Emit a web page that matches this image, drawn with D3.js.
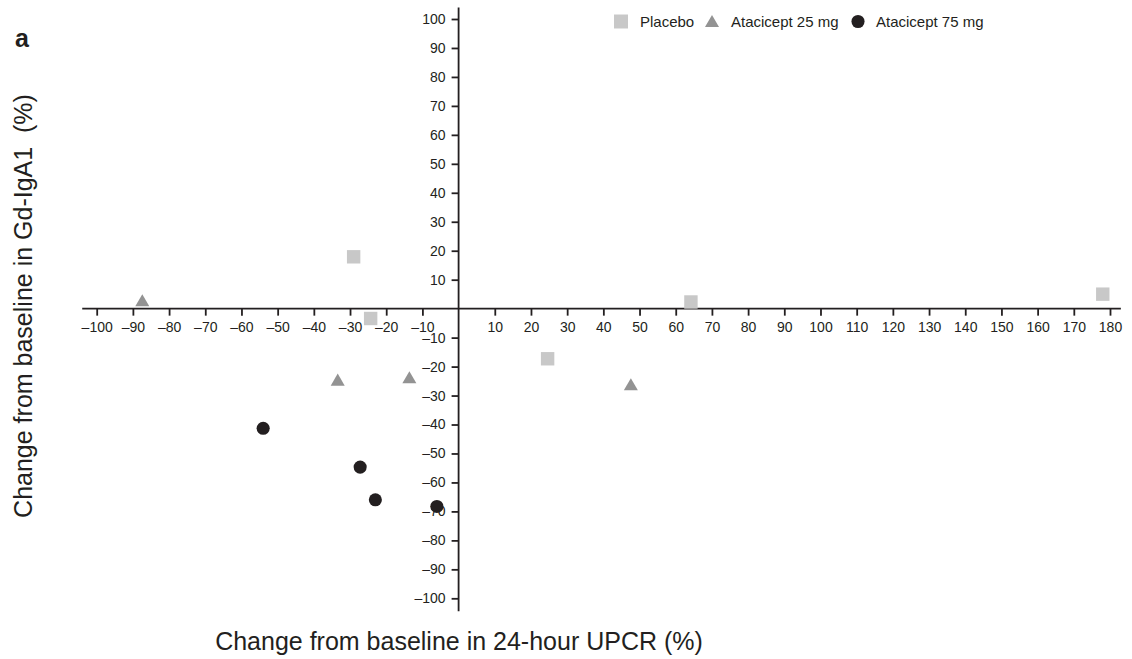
<!DOCTYPE html>
<html>
<head>
<meta charset="utf-8">
<script src="https://cdn.jsdelivr.net/npm/d3@7"></script>
<style>
  html, body { margin: 0; padding: 0; background: #fff; }
  svg { display: block; font-family: "Liberation Sans", Arial, sans-serif; }
</style>
</head>
<body>
<svg id="chart" width="1132" height="659"></svg>
<script>
// ---- Data ----
const seriesNames = ["Placebo", "Atacicept 25 mg", "Atacicept 75 mg"];
const placeboX = [-29, -24.3, 24.6, 64.2, 178];
const placeboY = [17.9, -3.4, -17.3, 2.3, 5.0];
const ata25X = [-87.4, -33.4, -13.6, 47.6];
const ata25Y = [2.2, -25.2, -24.4, -26.8];
const ata75X = [-54.0, -27.2, -23.0, -6.0];
const ata75Y = [-41.3, -54.7, -66.0, -68.3];
const xTicks = d3.range(-100, 181, 10).filter(v => v !== 0);
const yTicks = d3.range(-100, 101, 10).filter(v => v !== 0);
const xTitle = "Change from baseline in 24-hour UPCR (%)";
const yTitle = "Change from baseline in Gd-IgA1\u00a0 (%)";
const panelLabel = "a";

// ---- Layout ----
const svg = d3.select("#chart");
const ink = "#231f20";
const x = d3.scaleLinear().domain([-100, 180]).range([96.7, 1110]);
const y = d3.scaleLinear().domain([-100, 100]).range([598.3, 19]);
const fmt = v => String(v).replace("-", "\u2013");

// axis lines
svg.append("line")
  .attr("x1", x(-104)).attr("x2", x(183))
  .attr("y1", y(0)).attr("y2", y(0))
  .attr("stroke", ink).attr("stroke-width", 1.8);
svg.append("line")
  .attr("x1", x(0)).attr("x2", x(0))
  .attr("y1", y(104)).attr("y2", y(-104.5))
  .attr("stroke", ink).attr("stroke-width", 1.8);

const xAxis = d3.axisBottom(x).tickValues(xTicks).tickFormat(fmt)
  .tickSize(7).tickPadding(6).tickSizeOuter(0);
const gx = svg.append("g").attr("transform", `translate(0,${y(0)})`).call(xAxis);
gx.select(".domain").remove();

const yAxis = d3.axisLeft(y).tickValues(yTicks).tickFormat(fmt)
  .tickSize(7).tickPadding(6).tickSizeOuter(0);
const gy = svg.append("g").attr("transform", `translate(${x(0)},0)`).call(yAxis);
gy.select(".domain").remove();

[gx, gy].forEach(g => {
  g.selectAll(".tick line").attr("stroke", ink).attr("stroke-width", 1.8);
  g.selectAll(".tick text").attr("fill", ink)
    .style("font-size", "14px").style("font-family", "'Liberation Sans', Arial, sans-serif");
});

// ---- Points ----
const colors = ["#c8c8c8", "#939393", ink];
const symbols = [d3.symbolSquare, d3.symbolTriangle, d3.symbolCircle];
const sizes = [180, 85, 135];
const seriesData = [
  placeboX.map((v, i) => [v, placeboY[i]]),
  ata25X.map((v, i) => [v, ata25Y[i]]),
  ata75X.map((v, i) => [v, ata75Y[i]])
];
seriesData.forEach((pts, s) => {
  svg.append("g").selectAll("path").data(pts).join("path")
    .attr("d", d3.symbol().type(symbols[s]).size(sizes[s]))
    .attr("transform", d => `translate(${x(d[0])},${y(d[1])})`)
    .attr("fill", colors[s]);
});

// ---- Legend ----
const legendSym = [621, 712, 858];
const legendTxt = [640, 731, 876];
const lg = svg.append("g");
seriesNames.forEach((name, i) => {
  lg.append("path")
    .attr("d", d3.symbol().type(symbols[i]).size(i === 0 ? 196 : sizes[i]))
    .attr("transform", `translate(${legendSym[i]},${i === 1 ? 23 : 21.5})`)
    .attr("fill", colors[i]);
  lg.append("text").attr("x", legendTxt[i]).attr("y", 27)
    .attr("fill", ink).style("font-size", "15px").text(name);
});

// ---- Titles ----
svg.append("text").attr("x", 459).attr("y", 650)
  .attr("text-anchor", "middle").attr("fill", ink)
  .style("font-size", "25px").text(xTitle);
svg.append("text")
  .attr("transform", "translate(32,306) rotate(-90)")
  .attr("text-anchor", "middle").attr("fill", ink)
  .style("font-size", "25px").text(yTitle);
svg.append("text").attr("x", 15).attr("y", 47)
  .attr("fill", ink).style("font-size", "25px").style("font-weight", "bold")
  .text(panelLabel);
</script>
</body>
</html>
